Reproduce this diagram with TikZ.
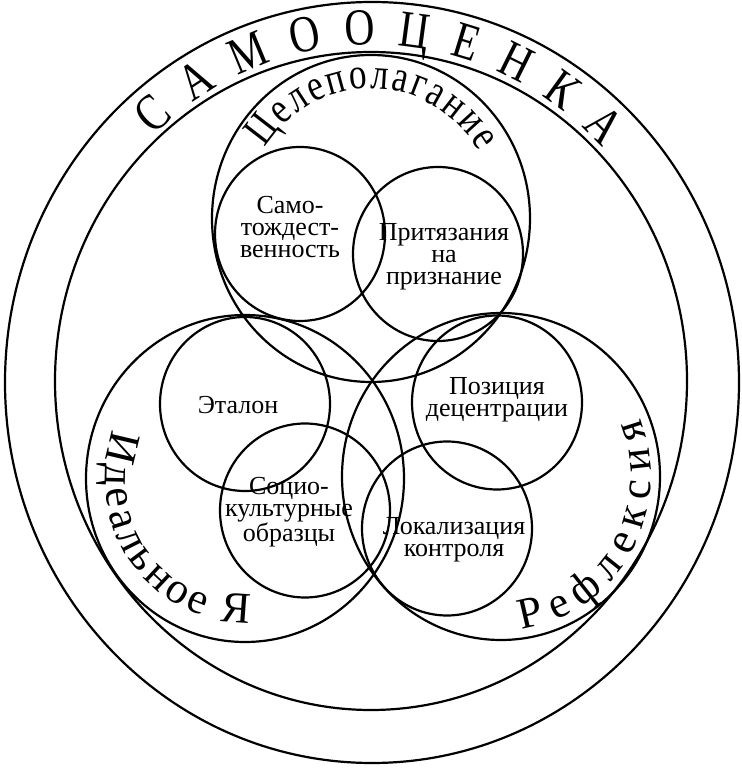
\documentclass[tikz,border=0pt]{standalone}
\usepackage{fontspec}
\setmainfont{Liberation Serif}
\newfontfamily\narrowserif[FakeStretch=0.8]{Liberation Serif}
\usetikzlibrary{decorations.text}
\newcommand\bigletters{\narrowserif\fontsize{52}{52}\selectfont}
\newcommand\topletters{\narrowserif\fontsize{44}{44}\selectfont}
\newcommand\midletters{\fontsize{44}{44}\selectfont}
\tikzset{
  ring/.style={line width=2.2pt},
  lbl/.style={anchor=center,inner sep=0pt,align=center,font=\fontsize{26}{22}\selectfont},
  arcword/.style={decorate,decoration={text along path,text align={fit to path},text={#1}}}
}

\begin{document}
\begin{tikzpicture}[x=1pt,y=1pt]
\path[use as bounding box] (0,0) rectangle (742,772);
% outer rings
\draw[ring] (372,389.5) ellipse [x radius=367,y radius=380.5];
\draw[ring] (371,391) ellipse [x radius=316,y radius=329];
% three big circles
\draw[ring] (371,553.5) ellipse [x radius=159,y radius=163.5];
\draw[ring] (245,293.5) ellipse [x radius=159,y radius=163.5];
\draw[ring] (501,295.5) ellipse [x radius=159,y radius=163.5];
% six small circles
\draw[ring] (300,538) ellipse [x radius=85,y radius=87];
\draw[ring] (438,518) ellipse [x radius=85,y radius=87];
\draw[ring] (245,368) ellipse [x radius=85,y radius=87];
\draw[ring] (497,369.5) ellipse [x radius=85,y radius=87];
\draw[ring] (305,261.5) ellipse [x radius=85,y radius=87];
\draw[ring] (447,243.5) ellipse [x radius=85,y radius=87];
% labels in the small circles
\node[lbl] (samo) at (290,545) {Само-\\тождест-\\венность};
\node[lbl] (pritz) at (444,515) {Притязания\\на\\признание};
\node[lbl] (etalon) at (238,367) {Эталон};
\node[lbl] (pozic) at (497,372) {Позиция\\децентрации};
\node[lbl] (socio) at (289,260) {Социо-\\культурные\\образцы};
\node[lbl] (lokal) at (454,232) {Локализация\\контроля};
% words along the circles
\path[arcword={|\bigletters|САМООЦЕНКА}] (372,390) ++(133:320 and 337) arc [start angle=133,end angle=44,x radius=320,y radius=337];
\path[arcword={|\topletters|Целеполагание}] (371,553.5) ++(147:126 and 130) arc [start angle=147,end angle=31,x radius=126,y radius=130];
\path[arcword={|\midletters|Идеальное Я}] (245,293.5) ++(160:140 and 144) arc [start angle=160,end angle=272,x radius=140,y radius=144];
\path[arcword={|\midletters|Рефлексия}] (501,295.5) ++(-82:150 and 154) arc [start angle=-82,end angle=22,x radius=150,y radius=154];
\end{tikzpicture}
\end{document}
